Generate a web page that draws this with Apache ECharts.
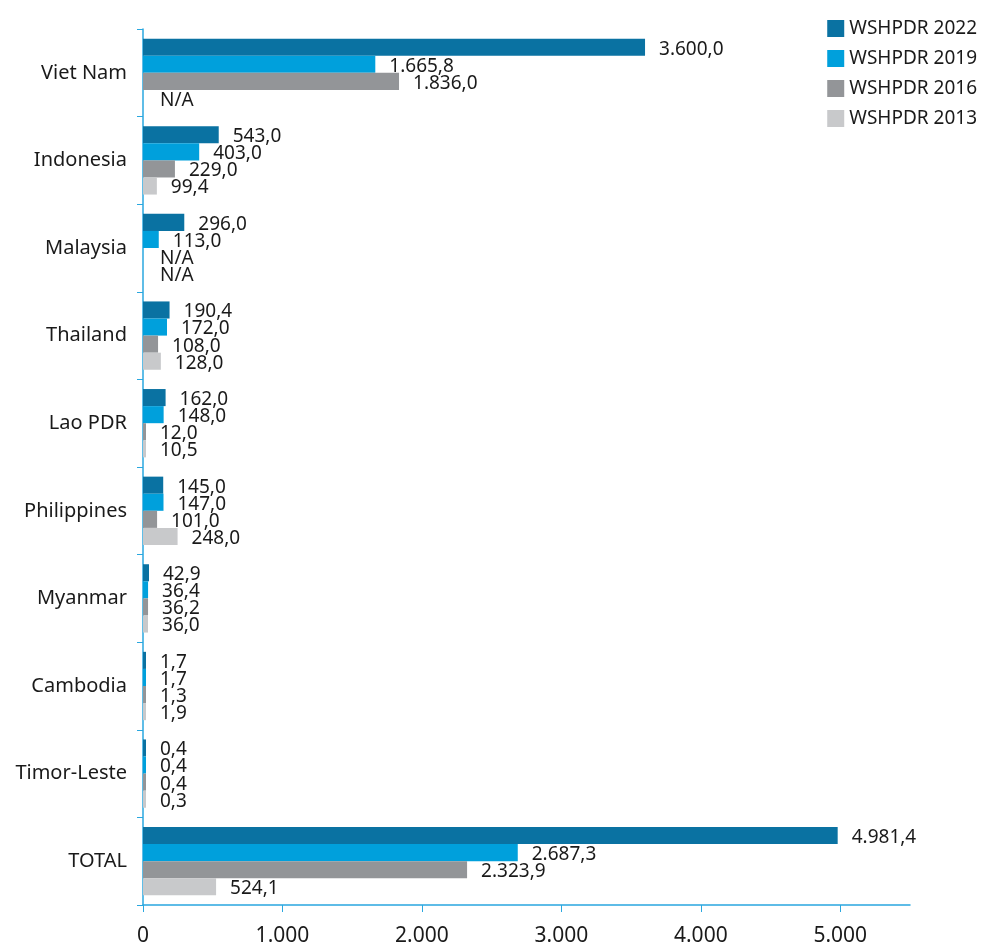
<!DOCTYPE html>
<html>
<head>
<meta charset="utf-8">
<script src="https://cdn.jsdelivr.net/npm/echarts@6/dist/echarts.min.js"></script>
<style>html,body{margin:0;padding:0;background:#fff}#c{width:984px;height:947px}</style>
</head>
<body>
<div id="c"></div>
<script>
const categories = ['Viet Nam','Indonesia','Malaysia','Thailand','Lao PDR','Philippines','Myanmar','Cambodia','Timor-Leste','TOTAL'];
const seriesNames = ['WSHPDR 2022','WSHPDR 2019','WSHPDR 2016','WSHPDR 2013'];
const v2022 = [3600.0, 543.0, 296.0, 190.4, 162.0, 145.0, 42.9, 1.7, 0.4, 4981.4];
const v2019 = [1665.8, 403.0, 113.0, 172.0, 148.0, 147.0, 36.4, 1.7, 0.4, 2687.3];
const v2016 = [1836.0, 229.0, null, 108.0, 12.0, 101.0, 36.2, 1.3, 0.4, 2323.9];
const v2013 = [null, 99.4, null, 128.0, 10.5, 248.0, 36.0, 1.9, 0.3, 524.1];
const xTicks = [0, 1000, 2000, 3000, 4000, 5000];
const colors = ['#0a72a2', '#00a0dc', '#939598', '#c8c9cb'];

function fmt(v, dec) {
  const s = v.toFixed(dec);
  const parts = s.split('.');
  const intPart = parts[0].replace(/\B(?=(\d{3})+(?!\d))/g, '.');
  return parts.length > 1 ? intPart + ',' + parts[1] : intPart;
}
const FONT = 'Noto Sans';
const TXT = '#1a1a1a';
const AX = '#2aa7df';

const all = [v2022, v2019, v2016, v2013];
const series = all.map((arr, i) => ({
  name: seriesNames[i],
  type: 'bar',
  barGap: '0%',
  barCategoryGap: '22%',
  barMinHeight: 3,
  itemStyle: { color: colors[i] },
  label: {
    show: true, position: 'right', distance: 14, offset: [0, 2],
    fontFamily: FONT, fontSize: 19, color: TXT,
    formatter: p => fmt(p.value, 1)
  },
  data: arr.map(v => v === null
    ? { value: 0, itemStyle: { color: 'rgba(0,0,0,0)' }, label: { formatter: 'N/A' } }
    : v)
}));

const chart = echarts.init(document.getElementById('c'), null, { renderer: 'canvas' });
chart.setOption({
  animation: false,
  color: colors,
  legend: {
    orient: 'vertical', right: 2, top: 14,
    itemWidth: 17, itemHeight: 17, itemGap: 11,
    icon: 'rect',
    textStyle: { fontFamily: FONT, fontSize: 19, color: TXT },
    data: seriesNames
  },
  grid: { left: 143, right: 74, top: 29, bottom: 40, containLabel: false },
  xAxis: {
    type: 'value', min: 0, max: 5500, interval: 1000,
    axisLine: { show: true, lineStyle: { color: AX, width: 1.5 } },
    axisTick: { show: true, length: 7, lineStyle: { color: AX }, customValues: xTicks },
    axisLabel: { fontFamily: FONT, fontSize: 21, color: TXT, margin: 21, customValues: xTicks, formatter: v => fmt(v, 0) },
    splitLine: { show: false }
  },
  yAxis: {
    type: 'category', inverse: true, data: categories,
    axisLine: { show: true, lineStyle: { color: AX, width: 1.5 } },
    axisTick: { show: true, length: 6, lineStyle: { color: AX } },
    axisLabel: { fontFamily: FONT, fontSize: 20, color: TXT, margin: 16 }
  },
  series: series
});
</script>
</body>
</html>
